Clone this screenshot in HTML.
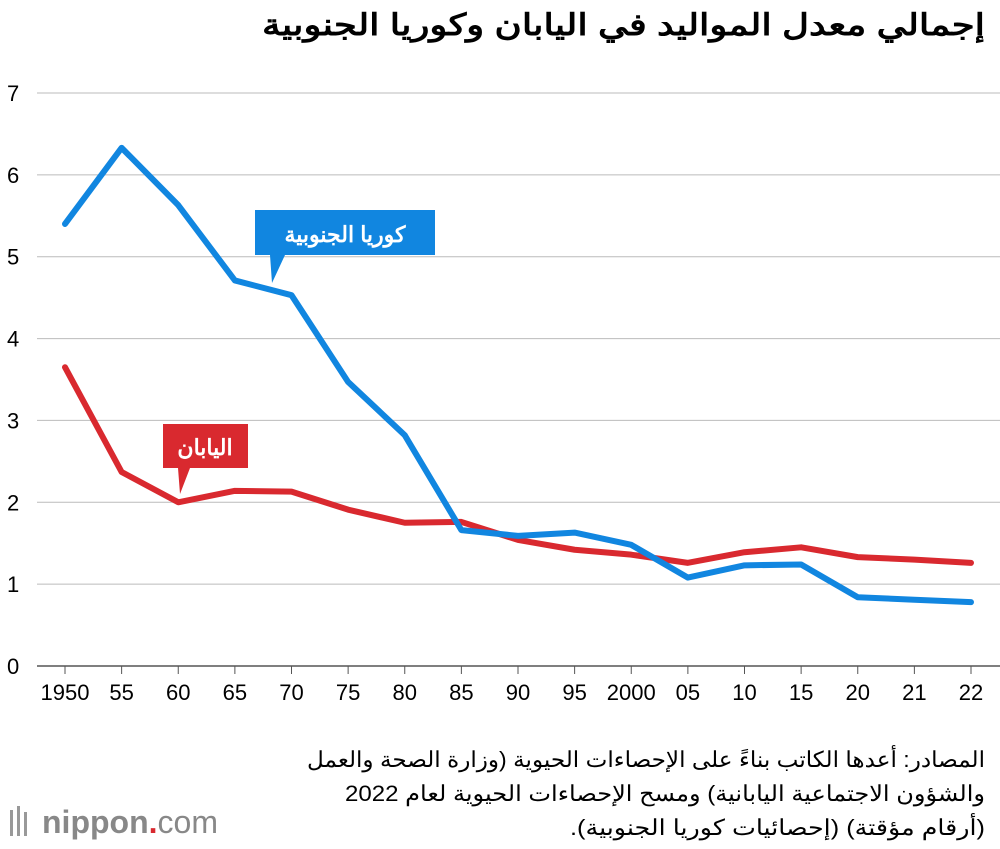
<!DOCTYPE html>
<html><head><meta charset="utf-8"><style>
body{margin:0;background:#fff;width:1000px;height:844px;overflow:hidden;font-family:"Liberation Sans","Noto Sans CJK SC",sans-serif}
svg text{font-family:"Liberation Sans","Noto Sans CJK SC",sans-serif}
</style></head><body>
<svg id="chart" width="1000" height="844">
<text x="985" y="35" text-anchor="start" font-size="30" font-weight="bold" fill="#000" direction="rtl" textLength="723" lengthAdjust="spacingAndGlyphs">إجمالي معدل المواليد في اليابان وكوريا الجنوبية</text>
<g id="grid"></g><g id="lines"></g>
<g>
<polygon points="255,210 435,210 435,255 285,255 272,283 270,255 255,255" fill="#1186e0"/>
<text x="345" y="242" text-anchor="middle" font-size="22" font-weight="bold" fill="#fff" direction="rtl">كوريا الجنوبية</text></g>
<g>
<polygon points="163,424 248,424 248,468 190,468 180,494 178,468 163,468" fill="#d9292f"/>
<text x="205" y="455" text-anchor="middle" font-size="22" font-weight="bold" fill="#fff" direction="rtl">اليابان</text></g>
<g font-size="22" fill="#000" text-anchor="start" direction="rtl" lengthAdjust="spacingAndGlyphs">
<text x="985" y="767" textLength="678" lengthAdjust="spacingAndGlyphs">المصادر: أعدها الكاتب بناءً على الإحصاءات الحيوية (وزارة الصحة والعمل</text>
<text x="985" y="801" textLength="640" lengthAdjust="spacingAndGlyphs">والشؤون الاجتماعية اليابانية) ومسح الإحصاءات الحيوية لعام 2022</text>
<text x="985" y="835" textLength="415" lengthAdjust="spacingAndGlyphs">(أرقام مؤقتة) (إحصائيات كوريا الجنوبية).</text></g>
<g>
<rect x="10" y="810" width="3" height="26" fill="#999"/><rect x="17" y="806" width="3" height="30" fill="#999"/><rect x="24" y="812" width="3" height="24" fill="#999"/>
<text x="42" y="833" font-size="32" font-weight="bold" fill="#888">nippon<tspan fill="#d9292f">.</tspan><tspan font-weight="normal">com</tspan></text></g>
</svg>
<script>
const categories=["1950","55","60","65","70","75","80","85","90","95","2000","05","10","15","20","21","22"];
const korea=[5.4,6.33,5.63,4.71,4.53,3.47,2.82,1.66,1.59,1.63,1.48,1.08,1.23,1.24,0.84,0.81,0.78];
const japan=[3.65,2.37,2.00,2.14,2.13,1.91,1.75,1.76,1.54,1.42,1.36,1.26,1.39,1.45,1.33,1.30,1.26];
const yTicks=[0,1,2,3,4,5,6,7];
const NS="http://www.w3.org/2000/svg";
const x=i=>65+i*(971-65)/(categories.length-1);
const y=v=>666-v*(666-93)/7;
const grid=document.getElementById('grid'),lines=document.getElementById('lines');
function mk(t,a,p){const e=document.createElementNS(NS,t);for(const k in a)e.setAttribute(k,a[k]);p.appendChild(e);return e;}
yTicks.forEach(v=>{
 const l=mk('line',{x1:37,x2:1000,y1:y(v),y2:y(v),stroke:v===0?'#555':'#bbb','stroke-width':v===0?1.5:1},grid);
 
 
 const t=mk('text',{x:7,y:y(v)+8,'font-size':22},grid);t.textContent=v;
 
 
});
categories.forEach((c,i)=>{
 const tk=mk('line',{x1:x(i),x2:x(i),y1:666,y2:674,stroke:'#555'},grid);
 
 
 const t=mk('text',{x:x(i),y:700,'font-size':22,'text-anchor':'middle'},grid);t.textContent=c;
 
 
});
function series(d,col,name){
 const p=mk('polyline',{points:d.map((v,i)=>x(i)+','+y(v)).join(' '),fill:'none',stroke:col,'stroke-width':6,'stroke-linejoin':'round','stroke-linecap':'round'},lines);
 
 
}
series(japan,'#d9292f','japan-line');
series(korea,'#1186e0','korea-line');
</script>
</body></html>
